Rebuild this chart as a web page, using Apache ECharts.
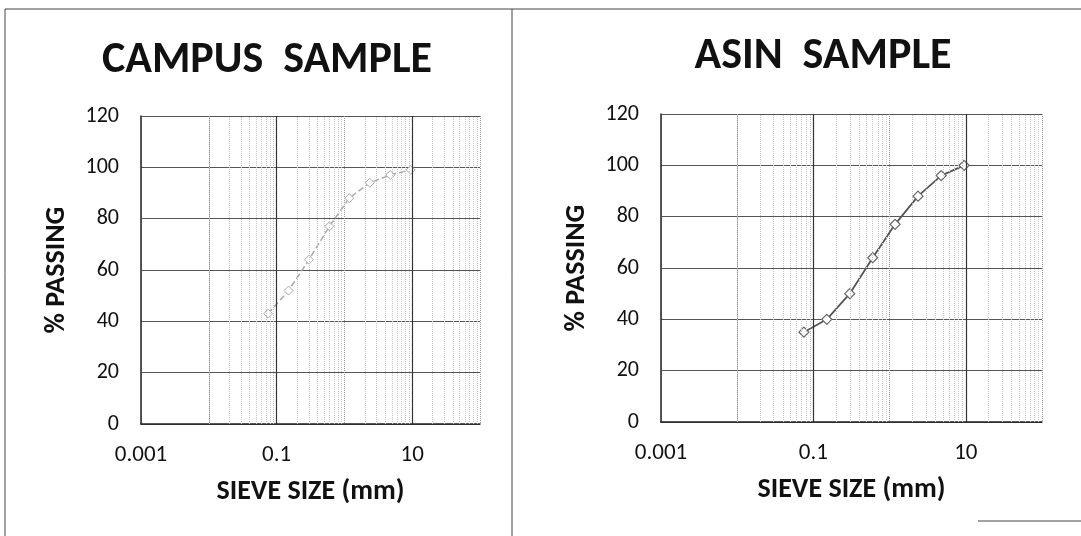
<!DOCTYPE html>
<html>
<head>
    <meta charset="UTF-8"/>
    <script type="text/javascript" src="https://cdn.jsdelivr.net/npm/echarts@6/dist/echarts.min.js"></script>
    <title>Sieve analysis</title>
    <style>
        body { margin: 0; background: #fff; }
        #main { width: 1081px; height: 536px; }
    </style>
</head>
<body>
<div id="main"></div>
<script type="text/javascript">
    // sieve sizes (mm) and % passing
    var campusSieve = [0.075, 0.15, 0.3, 0.6, 1.18, 2.36, 4.75, 9.5]
    var campusPassing = [43, 52, 64, 77, 88, 94, 97, 99]
    var asinSieve = [0.075, 0.15, 0.3, 0.6, 1.18, 2.36, 4.75, 9.5]
    var asinPassing = [35, 40, 50, 64, 77, 88, 96, 100]
    var titles = ['CAMPUS  SAMPLE', 'ASIN  SAMPLE']
    var majorLines = [0.1, 10]

    var font = "Carlito, 'Liberation Sans Narrow', 'Open Sans', sans-serif"

    function pairs(xs, ys) {
        var out = []
        for (var i in xs) {
            out.push([xs[i], ys[i]])
        }
        return out
    }

    function xAxisOf(idx) {
        return {
            type: 'log',
            gridIndex: idx,
            logBase: 10,
            min: 0.001,
            max: 100,
            name: 'SIEVE SIZE (mm)',
            nameLocation: 'middle',
            nameGap: 54,
            nameTextStyle: {fontFamily: font, fontWeight: 'bold', fontSize: 28, color: '#111'},
            axisLine: {show: true, lineStyle: {color: '#222', width: 1.5}},
            axisTick: {show: false},
            axisLabel: {
                fontFamily: font, fontSize: 23, color: '#111', margin: 20,
                formatter: function (v) {
                    var e = Math.round(Math.log10(v))
                    return Math.abs(e % 2) === 1 ? String(v) : ''
                }
            },
            splitLine: {show: true, lineStyle: {color: '#999', type: 'dotted', width: 1}}
        }
    }

    function yAxisOf(idx) {
        return {
            type: 'value',
            gridIndex: idx,
            min: 0,
            max: 120,
            interval: 20,
            name: '% PASSING',
            nameLocation: 'middle',
            nameRotate: 90,
            nameGap: 70,
            nameTextStyle: {fontFamily: font, fontWeight: 'bold', fontSize: 28, color: '#111'},
            axisLine: {show: true, lineStyle: {color: '#222', width: 1.5}},
            axisTick: {show: false},
            axisLabel: {fontFamily: font, fontSize: 22, color: '#111', margin: 22},
            splitLine: {show: true, lineStyle: {color: '#555', width: 1}}
        }
    }

    // Excel-style log gridlines: dotted minors between decades, solid majors
    function markOf() {
        var d = []
        for (var e = -3; e <= 1; e++) {
            for (var k = 2; k <= 9; k++) {
                d.push({xAxis: k * Math.pow(10, e), lineStyle: {color: '#c4c4c4', type: 'dotted', width: 1}})
            }
        }
        for (var i in majorLines) {
            d.push({xAxis: majorLines[i], lineStyle: {color: '#333', type: 'solid', width: 1.2}})
        }
        return {
            silent: true,
            symbol: 'none',
            label: {show: false},
            data: d
        }
    }

    var option = {
        animation: false,
        backgroundColor: '#fff',
        title: [
            {text: titles[0], left: 262, top: 34, textAlign: 'center',
                textStyle: {fontFamily: font, fontWeight: 'bold', fontSize: 44, color: '#111'}},
            {text: titles[1], left: 818, top: 30, textAlign: 'center',
                textStyle: {fontFamily: font, fontWeight: 'bold', fontSize: 44, color: '#111'}}
        ],
        grid: [
            {left: 141, right: 601, top: 116, bottom: 112},
            {left: 661, right: 39, top: 114, bottom: 114}
        ],
        xAxis: [xAxisOf(0), xAxisOf(1)],
        yAxis: [yAxisOf(0), yAxisOf(1)],
        series: [
            {
                name: 'Campus', type: 'line', xAxisIndex: 0, yAxisIndex: 0,
                data: pairs(campusSieve, campusPassing),
                symbol: 'diamond', symbolSize: 9,
                itemStyle: {color: '#fff', borderColor: '#aaa', borderWidth: 1},
                lineStyle: {color: '#aaa', width: 1.5, type: 'dashed'},
                markLine: markOf(),
                z: 3
            },
            {
                name: 'Asin', type: 'line', xAxisIndex: 1, yAxisIndex: 1,
                data: pairs(asinSieve, asinPassing),
                symbol: 'diamond', symbolSize: 10,
                itemStyle: {color: '#fff', borderColor: '#666', borderWidth: 1.2},
                lineStyle: {color: '#555', width: 1.8},
                markLine: markOf(),
                z: 3
            }
        ],
        graphic: [
            {type: 'line', shape: {x1: 5, y1: 9, x2: 1081, y2: 9}, style: {stroke: '#444', lineWidth: 1}},
            {type: 'line', shape: {x1: 5, y1: 9, x2: 5, y2: 536}, style: {stroke: '#444', lineWidth: 1}},
            {type: 'line', shape: {x1: 512, y1: 9, x2: 512, y2: 536}, style: {stroke: '#444', lineWidth: 1}},
            {type: 'line', shape: {x1: 978, y1: 521, x2: 1081, y2: 521}, style: {stroke: '#444', lineWidth: 1}}
        ]
    }

    var myChart = echarts.init(document.getElementById('main'))
    myChart.setOption(option)
</script>
</body>
</html>
